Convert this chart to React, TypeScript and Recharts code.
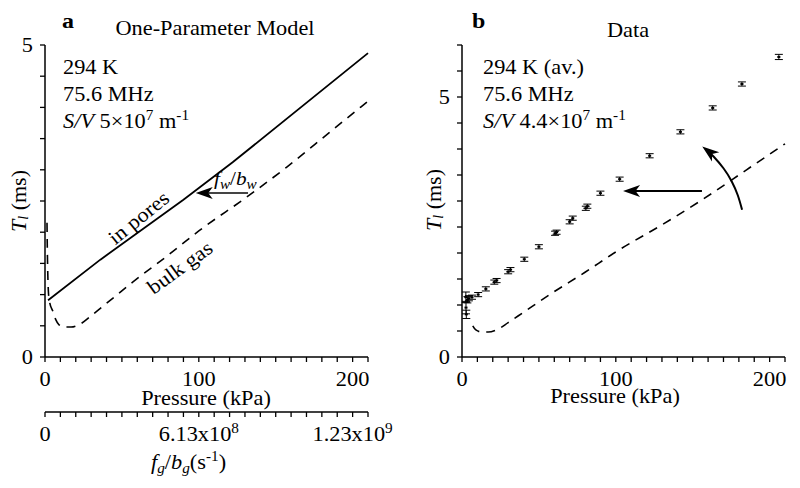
import React from "react"
import {
  ComposedChart,
  Line,
  Scatter,
  XAxis,
  YAxis,
  ErrorBar,
  ReferenceLine,
  ReferenceDot,
  Customized,
} from "recharts"

const FONT = "Liberation Serif"
const FS = 20.5
const SUP = 14
const SX = 1.09 // the reference type is a little wide

// x axis ticks (kPa), minor every 10
const pressureTicks = [0, 10, 20, 30, 40, 50, 60, 70, 80, 90, 100, 110, 120, 130, 140, 150, 160, 170, 180, 190, 200, 210]
const pressureLabels = [0, 100, 200]
const modelTicks = [0, 0.5, 1, 1.5, 2, 2.5, 3, 3.5, 4, 4.5, 5]
const dataTicks = [0, 0.5, 1, 1.5, 2, 2.5, 3, 3.5, 4, 4.5, 5, 5.5, 6]
const shownY = [0, 5]
// secondary axis: f_g/b_g (s^-1) at pressure 0, 100, 200
const rateLabels: Record<number, [string, string]> = {
  0: ["0", ""],
  100: ["6.13x10", "8"],
  200: ["1.23x10", "9"],
}

// panel a, in pores (solid)
const inPores = [
  { p: 2, t: 0.91 },
  { p: 36, t: 1.56 },
  { p: 90, t: 2.52 },
  { p: 122, t: 3.12 },
  { p: 210, t: 4.87 },
]

// bulk gas (dashed), both panels
const bulkGas = [
  { p: 1.3, t: 2.15 },
  { p: 1.5, t: 1.75 },
  { p: 1.8, t: 1.35 },
  { p: 2.2, t: 1.05 },
  { p: 3, t: 0.88 },
  { p: 5, t: 0.74 },
  { p: 7, t: 0.6 },
  { p: 9, t: 0.52 },
  { p: 13, t: 0.48 },
  { p: 17, t: 0.48 },
  { p: 23, t: 0.53 },
  { p: 30, t: 0.66 },
  { p: 40, t: 0.86 },
  { p: 57, t: 1.2 },
  { p: 80, t: 1.63 },
  { p: 100, t: 2.02 },
  { p: 131, t: 2.56 },
  { p: 157, t: 3.04 },
  { p: 185, t: 3.6 },
  { p: 210, t: 4.1 },
]

// panel b, measured T1 with error
const measured = [
  { p: 2.5, t: 1.15, err: 0.1 },
  { p: 2.6, t: 0.95, err: 0.12 },
  { p: 2.8, t: 0.82, err: 0.08 },
  { p: 3.5, t: 1.1, err: 0.06 },
  { p: 4.5, t: 1.13, err: 0.05 },
  { p: 6.5, t: 1.15, err: 0.04 },
  { p: 10.5, t: 1.2, err: 0.04 },
  { p: 15.5, t: 1.31, err: 0.04 },
  { p: 21, t: 1.44, err: 0.04 },
  { p: 22.5, t: 1.47, err: 0.04 },
  { p: 30, t: 1.64, err: 0.04 },
  { p: 31.5, t: 1.68, err: 0.04 },
  { p: 40.5, t: 1.88, err: 0.04 },
  { p: 50, t: 2.12, err: 0.04 },
  { p: 60.5, t: 2.38, err: 0.04 },
  { p: 61.5, t: 2.4, err: 0.04 },
  { p: 70, t: 2.6, err: 0.04 },
  { p: 72, t: 2.67, err: 0.04 },
  { p: 80.5, t: 2.86, err: 0.04 },
  { p: 81.5, t: 2.9, err: 0.04 },
  { p: 90, t: 3.15, err: 0.04 },
  { p: 102.5, t: 3.42, err: 0.04 },
  { p: 122, t: 3.87, err: 0.04 },
  { p: 142, t: 4.33, err: 0.04 },
  { p: 163, t: 4.79, err: 0.04 },
  { p: 182, t: 5.25, err: 0.04 },
  { p: 206, t: 5.77, err: 0.05 },
]

// curved arrow in panel b
const curvedArrow = [
  { p: 182.1, t: 2.83 },
  { p: 179.3, t: 3.11 },
  { p: 175.3, t: 3.38 },
  { p: 170.0, t: 3.63 },
  { p: 163.7, t: 3.85 },
  { p: 161.0, t: 3.93 },
]

const TS = 5
const TMX = 10
const TMY = 7
const axisLine = { stroke: "#000", strokeWidth: 1.5 }

function Txt(props: any) {
  const { x, y, size = FS, anchor = "start", rot = 0, weight, children } = props
  return (
    <text
      transform={`translate(${x},${y}) rotate(${rot}) scale(${SX},1)`}
      x={0}
      y={0}
      textAnchor={anchor}
      fontSize={size}
      fontFamily={FONT}
      fontWeight={weight}
      fill="#000"
    >
      {children}
    </text>
  )
}

function arrowHead(rot: number) {
  return (props: any) => {
    const { cx, cy } = props
    return (
      <polygon
        points="0,0 17,-6 12.5,0 17,6"
        fill="#000"
        transform={`translate(${cx},${cy}) rotate(${rot})`}
      />
    )
  }
}

// bottom tick: own tick mark + label
function BottomTick(props: any) {
  const { x, y, payload } = props
  const ay = y - TMX - TS
  return (
    <g>
      <line x1={x} x2={x} y1={ay} y2={ay + TS} stroke="#000" strokeWidth={1.3} />
      {pressureLabels.includes(payload.value) && (
        <Txt x={x} y={y + 14} anchor="middle">
          {payload.value}
        </Txt>
      )}
    </g>
  )
}

function RateTick(props: any) {
  const { x, y, payload } = props
  const ay = y - TMX - TS
  const lbl = rateLabels[payload.value]
  return (
    <g>
      <line x1={x} x2={x} y1={ay} y2={ay + TS} stroke="#000" strokeWidth={1.3} />
      {lbl && (
        <Txt x={x} y={y + 14} anchor="middle">
          {lbl[0]}
          {lbl[1] && (
            <tspan dy={-8} fontSize={SUP}>
              {lbl[1]}
            </tspan>
          )}
        </Txt>
      )}
    </g>
  )
}

function LeftTick(props: any) {
  const { x, y, payload } = props
  const ax = x + TMY + TS
  return (
    <g>
      <line x1={ax - TS} x2={ax} y1={y} y2={y} stroke="#000" strokeWidth={1.3} />
      {shownY.includes(payload.value) && (
        <Txt x={x} y={y + 7} anchor="end">
          {payload.value}
        </Txt>
      )}
    </g>
  )
}

function YLabel({ x, y }: { x: number; y: number }) {
  return (
    <text
      x={x}
      y={y}
      transform={`rotate(-90, ${x}, ${y})`}
      textAnchor="middle"
      dominantBaseline="central"
      fontSize={22}
      fontFamily={FONT}
    >
      <tspan fontStyle="italic">T</tspan>
      <tspan fontStyle="italic" fontSize={SUP} dy={5}>l</tspan>
      <tspan dy={-5}> (ms)</tspan>
    </text>
  )
}

function SV({ x, value }: { x: number; value: string }) {
  return (
    <Txt x={x} y={128}>
      <tspan fontStyle="italic">S/V</tspan> {value}×10
      <tspan dy={-8} fontSize={SUP}>7</tspan>
      <tspan dy={8}> m</tspan>
      <tspan dy={-8} fontSize={SUP}>-1</tspan>
    </Txt>
  )
}

function NotesA() {
  return (
    <g>
      <Txt x={62} y={28} size={22} weight="bold">a</Txt>
      <Txt x={215} y={35} anchor="middle">One-Parameter Model</Txt>
      <Txt x={63} y={74}>294 K</Txt>
      <Txt x={63} y={101}>75.6 MHz</Txt>
      <SV x={63} value="5" />
      <Txt x={143} y={223} rot={-39} anchor="middle">in pores</Txt>
      <Txt x={184} y={273} rot={-36} anchor="middle">bulk gas</Txt>
      <Txt x={214} y={185} size={19.5}>
        <tspan fontStyle="italic">f</tspan>
        <tspan fontStyle="italic" fontSize={SUP} dy={4}>w</tspan>
        <tspan dy={-4}>/</tspan>
        <tspan fontStyle="italic">b</tspan>
        <tspan fontStyle="italic" fontSize={SUP} dy={4}>w</tspan>
      </Txt>
      <YLabel x={18} y={201} />
      <Txt x={206} y={405} anchor="middle">Pressure (kPa)</Txt>
      <Txt x={151} y={469}>
        <tspan fontStyle="italic">f</tspan>
        <tspan fontStyle="italic" fontSize={SUP} dy={4}>g</tspan>
        <tspan dy={-4}>/</tspan>
        <tspan fontStyle="italic">b</tspan>
        <tspan fontStyle="italic" fontSize={SUP} dy={4}>g</tspan>
        <tspan dy={-4}>(s</tspan>
        <tspan dy={-8} fontSize={SUP}>-1</tspan>
        <tspan dy={8}>)</tspan>
      </Txt>
    </g>
  )
}

function NotesB() {
  return (
    <g>
      <Txt x={72} y={28} size={22} weight="bold">b</Txt>
      <Txt x={228} y={37} anchor="middle">Data</Txt>
      <Txt x={83} y={74}>294 K (av.)</Txt>
      <Txt x={83} y={101}>75.6 MHz</Txt>
      <SV x={83} value="4.4" />
      <YLabel x={33} y={200} />
      <Txt x={215} y={403} anchor="middle">Pressure (kPa)</Txt>
    </g>
  )
}

export default function App() {
  return (
    <div style={{ position: "absolute", left: 0, top: 0, width: 800, height: 488, display: "flex", background: "#fff" }}>
      <ComposedChart width={400} height={488} margin={{ top: 45, right: 32, bottom: 0, left: 0 }}>
        <XAxis
          dataKey="p"
          type="number"
          domain={[0, 210]}
          ticks={pressureTicks}
          interval={0}
          height={55}
          tickSize={TS}
          tickMargin={TMX}
          tick={<BottomTick />}
          tickLine={false}
          axisLine={axisLine}
        />
        <XAxis
          xAxisId="rate"
          dataKey="p"
          type="number"
          domain={[0, 210]}
          ticks={pressureTicks}
          interval={0}
          height={76}
          tickSize={TS}
          tickMargin={TMX}
          tick={<RateTick />}
          tickLine={false}
          axisLine={axisLine}
        />
        <YAxis
          type="number"
          domain={[0, 5]}
          ticks={modelTicks}
          interval={0}
          width={45}
          tickSize={TS}
          tickMargin={TMY}
          tick={<LeftTick />}
          tickLine={false}
          axisLine={axisLine}
        />
        {/* invisible series so the secondary axis gets a scale */}
        <Line xAxisId="rate" data={inPores} dataKey="t" stroke="none" dot={false} isAnimationActive={false} />
        <Line data={inPores} dataKey="t" type="linear" stroke="#000" strokeWidth={1.8} dot={false} isAnimationActive={false} />
        <Line
          data={bulkGas}
          dataKey="t"
          type="monotone"
          stroke="#000"
          strokeWidth={1.6}
          strokeDasharray="9 7"
          dot={false}
          isAnimationActive={false}
        />
        <ReferenceLine segment={[{ x: 132, y: 2.63 }, { x: 104, y: 2.63 }]} stroke="#444" strokeWidth={2} />
        <ReferenceDot x={98} y={2.63} r={1} shape={arrowHead(0)} />
        <Customized component={<NotesA />} />
      </ComposedChart>

      <ComposedChart width={400} height={488} margin={{ top: 45, right: 15, bottom: 76, left: 17 }}>
        <XAxis
          dataKey="p"
          type="number"
          domain={[0, 210]}
          ticks={pressureTicks}
          interval={0}
          height={55}
          tickSize={TS}
          tickMargin={TMX}
          tick={<BottomTick />}
          tickLine={false}
          axisLine={axisLine}
        />
        <YAxis
          type="number"
          domain={[0, 6]}
          ticks={dataTicks}
          interval={0}
          width={45}
          tickSize={TS}
          tickMargin={TMY}
          tick={<LeftTick />}
          tickLine={false}
          axisLine={axisLine}
        />
        <Line
          data={bulkGas.filter((d) => d.p >= 6)}
          dataKey="t"
          type="monotone"
          stroke="#000"
          strokeWidth={1.6}
          strokeDasharray="9 7"
          dot={false}
          isAnimationActive={false}
        />
        <Scatter
          data={measured}
          dataKey="t"
          fill="#000"
          isAnimationActive={false}
          shape={(props: any) => <rect x={props.cx - 1.5} y={props.cy - 1} width={3} height={2} fill="#000" />}
        >
          <ErrorBar dataKey="err" direction="y" width={4} stroke="#000" strokeWidth={1} isAnimationActive={false} />
        </Scatter>
        <ReferenceLine segment={[{ x: 156, y: 3.19 }, { x: 110, y: 3.19 }]} stroke="#000" strokeWidth={2} />
        <ReferenceDot x={104.7} y={3.19} r={1} shape={arrowHead(0)} />
        <Line data={curvedArrow} dataKey="t" type="natural" stroke="#000" strokeWidth={2} dot={false} isAnimationActive={false} />
        <ReferenceDot x={156.2} y={4.05} r={1} shape={arrowHead(38)} />
        <Customized component={<NotesB />} />
      </ComposedChart>
    </div>
  )
}
